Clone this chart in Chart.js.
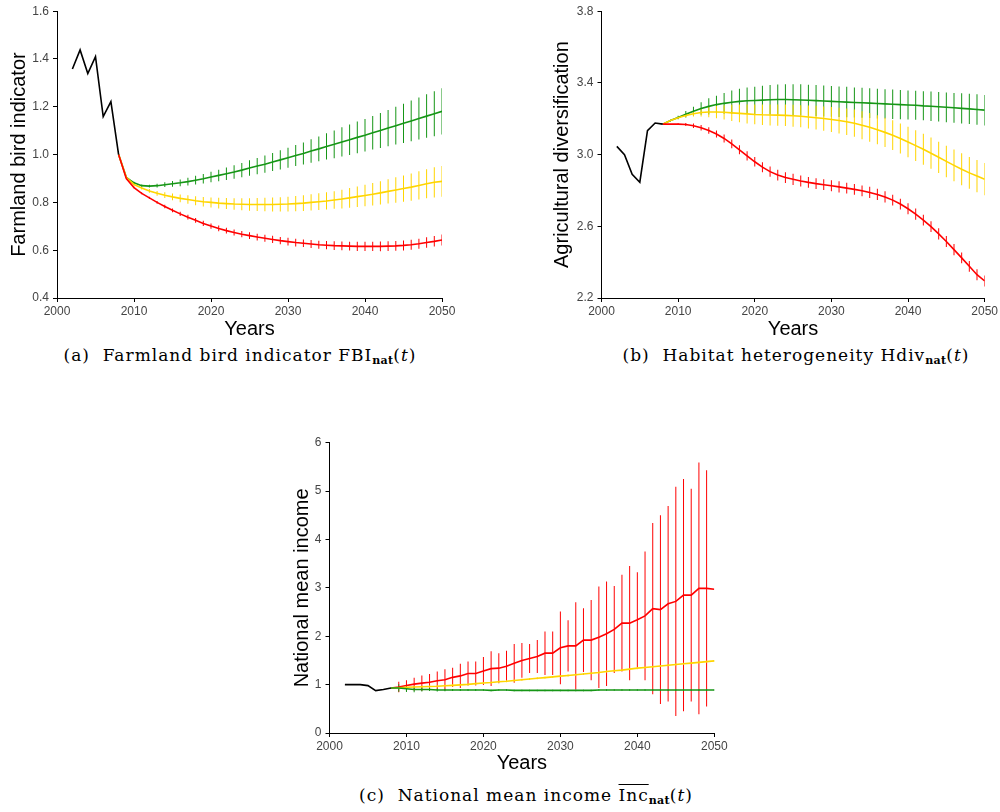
<!DOCTYPE html>
<html lang="en">
<head>
<meta charset="UTF-8">
<title>Scenario indicators</title>
<script src="https://cdn.jsdelivr.net/npm/chart.js"></script>
<style>
  body { margin: 0; background: #fff; }
  #page { position: relative; width: 1000px; height: 812px; overflow: hidden; background: #fff; }
  canvas { position: absolute; }
  .caption {
    position: absolute; text-align: center; white-space: nowrap; color: #000;
    font-family: "DejaVu Serif", "Liberation Serif", serif; font-size: 17px; letter-spacing: 1px;
  }
  .caption sub { font-size: 11px; font-weight: bold; vertical-align: -3px; letter-spacing: 0.3px; }
  .caption .ov { text-decoration: overline; }
</style>
</head>
<body>
<div id="page">
  <canvas id="chartA" width="460" height="345" style="left:0px; top:0px;"></canvas>
  <canvas id="chartB" width="460" height="345" style="left:540px; top:0px;"></canvas>
  <canvas id="chartC" width="450" height="349" style="left:280px; top:430px;"></canvas>
  <div class="caption" style="left:40px; width:400px; top:345px;">(a)&nbsp; Farmland bird indicator FBI<sub>nat</sub>(<i>t</i>)</div>
  <div class="caption" style="left:596px; width:400px; top:345px;">(b)&nbsp; Habitat heterogeneity Hdiv<sub>nat</sub>(<i>t</i>)</div>
  <div class="caption" style="left:326px; width:400px; top:785px;">(c)&nbsp; National mean income <span class="ov">Inc</span><sub>nat</sub>(<i>t</i>)</div>
</div>

<script>
// years
const histYears = [2002, 2003, 2004, 2005, 2006, 2007, 2008];
const projYears = [
  2008, 2009, 2010, 2011, 2012, 2013, 2014, 2015, 2016, 2017,
  2018, 2019, 2020, 2021, 2022, 2023, 2024, 2025, 2026, 2027,
  2028, 2029, 2030, 2031, 2032, 2033, 2034, 2035, 2036, 2037,
  2038, 2039, 2040, 2041, 2042, 2043, 2044, 2045, 2046, 2047,
  2048, 2049, 2050
];

// (a) farmland bird indicator
const fbiHist = [1.358, 1.438, 1.339, 1.410, 1.159, 1.222, 1.000];
const fbiGreen = [
  1.000, 0.905, 0.882, 0.870, 0.868, 0.870, 0.874, 0.878, 0.882, 0.887,
  0.893, 0.899, 0.906, 0.913, 0.920, 0.927, 0.935, 0.944, 0.952, 0.960,
  0.969, 0.978, 0.987, 0.996, 1.005, 1.015, 1.024, 1.034, 1.043, 1.053,
  1.062, 1.072, 1.081, 1.091, 1.101, 1.111, 1.121, 1.131, 1.141, 1.151,
  1.161, 1.171, 1.181
];
const fbiGreenErr = [
  0, 0, 0.004, 0.005, 0.006, 0.008, 0.010, 0.012, 0.014, 0.016,
  0.018, 0.020, 0.022, 0.024, 0.026, 0.028, 0.030, 0.032, 0.034, 0.036,
  0.038, 0.040, 0.042, 0.044, 0.046, 0.049, 0.052, 0.055, 0.058, 0.061,
  0.064, 0.066, 0.068, 0.070, 0.073, 0.076, 0.079, 0.082, 0.085, 0.088,
  0.091, 0.094, 0.097
];
const fbiYellow = [
  1.000, 0.905, 0.875, 0.860, 0.848, 0.838, 0.830, 0.823, 0.817, 0.812,
  0.807, 0.803, 0.800, 0.797, 0.795, 0.793, 0.792, 0.791, 0.791, 0.791,
  0.791, 0.792, 0.793, 0.795, 0.797, 0.800, 0.803, 0.806, 0.810, 0.814,
  0.819, 0.824, 0.829, 0.834, 0.840, 0.846, 0.852, 0.858, 0.864, 0.871,
  0.878, 0.884, 0.888
];
const fbiYellowErr = [
  0, 0, 0.004, 0.006, 0.008, 0.010, 0.012, 0.014, 0.016, 0.018,
  0.019, 0.020, 0.021, 0.022, 0.023, 0.024, 0.025, 0.026, 0.027, 0.028,
  0.029, 0.030, 0.031, 0.032, 0.033, 0.034, 0.035, 0.036, 0.037, 0.039,
  0.041, 0.043, 0.045, 0.047, 0.049, 0.051, 0.053, 0.055, 0.057, 0.059,
  0.061, 0.063, 0.064
];
const fbiRed = [
  1.000, 0.900, 0.862, 0.838, 0.819, 0.800, 0.783, 0.767, 0.752, 0.738,
  0.725, 0.712, 0.701, 0.691, 0.682, 0.674, 0.667, 0.661, 0.655, 0.650,
  0.645, 0.640, 0.636, 0.632, 0.629, 0.626, 0.623, 0.621, 0.619, 0.618,
  0.617, 0.616, 0.616, 0.616, 0.616, 0.617, 0.618, 0.620, 0.623, 0.627,
  0.632, 0.637, 0.643
];
const fbiRedErr = [
  0, 0, 0.003, 0.004, 0.005, 0.006, 0.007, 0.008, 0.009, 0.010,
  0.010, 0.011, 0.011, 0.012, 0.012, 0.013, 0.013, 0.014, 0.014, 0.015,
  0.015, 0.015, 0.016, 0.016, 0.016, 0.017, 0.017, 0.017, 0.018, 0.018,
  0.018, 0.019, 0.019, 0.019, 0.020, 0.020, 0.020, 0.021, 0.021, 0.021,
  0.022, 0.022, 0.023
];

// (b) habitat heterogeneity
const hdivHist = [3.046, 3.000, 2.890, 2.846, 3.134, 3.176, 3.170];
const hdivGreen = [
  3.170, 3.190, 3.207, 3.225, 3.242, 3.257, 3.269, 3.279, 3.286, 3.292,
  3.297, 3.300, 3.302, 3.304, 3.306, 3.307, 3.307, 3.306, 3.305, 3.303,
  3.301, 3.299, 3.297, 3.295, 3.293, 3.291, 3.289, 3.287, 3.285, 3.283,
  3.281, 3.279, 3.277, 3.275, 3.272, 3.270, 3.267, 3.264, 3.261, 3.258,
  3.255, 3.252, 3.248
];
const hdivGreenErr = [
  0, 0.005, 0.010, 0.018, 0.025, 0.035, 0.045, 0.050, 0.058, 0.065,
  0.070, 0.074, 0.077, 0.080, 0.082, 0.084, 0.085, 0.086, 0.087, 0.087,
  0.087, 0.086, 0.086, 0.085, 0.085, 0.084, 0.084, 0.083, 0.083, 0.082,
  0.082, 0.082, 0.081, 0.081, 0.081, 0.082, 0.082, 0.083, 0.083, 0.084,
  0.084, 0.085, 0.085
];
const hdivYellow = [
  3.170, 3.190, 3.205, 3.218, 3.228, 3.235, 3.238, 3.238, 3.236, 3.233,
  3.230, 3.227, 3.224, 3.222, 3.221, 3.220, 3.219, 3.217, 3.214, 3.210,
  3.206, 3.201, 3.196, 3.190, 3.183, 3.175, 3.164, 3.152, 3.139, 3.124,
  3.108, 3.090, 3.070, 3.050, 3.030, 3.008, 2.985, 2.962, 2.940, 2.918,
  2.898, 2.880, 2.863
];
const hdivYellowErr = [
  0, 0.003, 0.005, 0.010, 0.015, 0.022, 0.030, 0.035, 0.040, 0.045,
  0.050, 0.053, 0.055, 0.057, 0.058, 0.059, 0.060, 0.061, 0.062, 0.064,
  0.066, 0.068, 0.070, 0.072, 0.074, 0.076, 0.078, 0.080, 0.081, 0.082,
  0.083, 0.084, 0.085, 0.086, 0.086, 0.087, 0.087, 0.088, 0.088, 0.089,
  0.089, 0.090, 0.090
];
const hdivRed = [
  3.170, 3.170, 3.170, 3.168, 3.161, 3.150, 3.135, 3.115, 3.090, 3.060,
  3.027, 2.993, 2.960, 2.930, 2.905, 2.886, 2.872, 2.862, 2.853, 2.845,
  2.838, 2.832, 2.826, 2.820, 2.813, 2.806, 2.798, 2.789, 2.778, 2.764,
  2.746, 2.724, 2.698, 2.668, 2.635, 2.598, 2.558, 2.515, 2.470, 2.424,
  2.377, 2.330, 2.295
];
const hdivRedErr = [
  0, 0, 0.005, 0.008, 0.012, 0.015, 0.018, 0.020, 0.022, 0.024,
  0.025, 0.026, 0.027, 0.028, 0.029, 0.030, 0.030, 0.031, 0.031, 0.030,
  0.030, 0.030, 0.031, 0.031, 0.030, 0.030, 0.030, 0.031, 0.031, 0.031,
  0.030, 0.030, 0.031, 0.031, 0.030, 0.030, 0.031, 0.031, 0.031, 0.030,
  0.030, 0.031, 0.031
];

// (c) national mean income
const incHist = [1.00, 1.00, 1.00, 0.98, 0.875, 0.90, 0.93];
const incRed = [
  0.93, 0.95, 0.98, 1.01, 1.03, 1.05, 1.08, 1.10, 1.15, 1.18,
  1.23, 1.23, 1.28, 1.33, 1.34, 1.38, 1.44, 1.50, 1.54, 1.58,
  1.65, 1.65, 1.76, 1.80, 1.80, 1.92, 1.92, 1.98, 2.05, 2.14,
  2.27, 2.27, 2.34, 2.42, 2.57, 2.55, 2.67, 2.72, 2.85, 2.85,
  2.99, 2.99, 2.97
];
const incRedErr = [
  0, 0.11, 0.11, 0.13, 0.16, 0.17, 0.19, 0.22, 0.20, 0.25,
  0.25, 0.25, 0.29, 0.36, 0.31, 0.32, 0.40, 0.36, 0.30, 0.34,
  0.45, 0.45, 0.75, 0.53, 0.90, 0.66, 0.83, 1.05, 1.08, 0.90,
  1.00, 1.18, 0.98, 1.33, 1.77, 1.95, 2.02, 2.37, 2.40, 2.20,
  2.60, 2.44, 0
];
const incYellow = [
  0.93, 0.935, 0.945, 0.95, 0.955, 0.96, 0.965, 0.975, 0.985, 0.995,
  1.005, 1.02, 1.035, 1.045, 1.06, 1.07, 1.085, 1.10, 1.115, 1.13,
  1.145, 1.16, 1.175, 1.19, 1.205, 1.22, 1.235, 1.25, 1.27, 1.285,
  1.30, 1.32, 1.34, 1.355, 1.37, 1.385, 1.40, 1.415, 1.43, 1.445,
  1.46, 1.475, 1.49
];
const incYellowErr = [
  0, 0.02, 0.02, 0.02, 0.02, 0.02, 0.02, 0.02, 0.02, 0.02,
  0.02, 0.02, 0.02, 0.02, 0.02, 0.02, 0.02, 0.02, 0.02, 0.02,
  0.02, 0.02, 0.02, 0.02, 0.02, 0.02, 0.02, 0.02, 0.02, 0.02,
  0.02, 0.02, 0.02, 0.02, 0.02, 0.02, 0.02, 0.02, 0.02, 0.02,
  0.02, 0.02, 0.02
];
const incGreen = [
  0.93, 0.93, 0.915, 0.90, 0.90, 0.90, 0.89, 0.89, 0.89, 0.89,
  0.89, 0.89, 0.89, 0.88, 0.89, 0.89, 0.88, 0.88, 0.88, 0.88,
  0.88, 0.88, 0.88, 0.88, 0.88, 0.88, 0.88, 0.89, 0.89, 0.89,
  0.89, 0.89, 0.89, 0.89, 0.89, 0.89, 0.89, 0.89, 0.89, 0.89,
  0.89, 0.89, 0.89
];
const incGreenErr = [
  0, 0.08, 0.07, 0.06, 0.04, 0.03, 0.03, 0.025, 0.02, 0.02,
  0.02, 0.02, 0.015, 0.015, 0.015, 0.015, 0.015, 0.015, 0.015, 0.015,
  0.015, 0.015, 0.015, 0.015, 0.015, 0.015, 0.015, 0.015, 0.015, 0.015,
  0.015, 0.015, 0.015, 0.015, 0.015, 0.015, 0.015, 0.015, 0.015, 0.015,
  0.015, 0.015, 0.015
];

const GREEN = '#169616';
const YELLOW = '#ffd500';
const RED = '#ff0000';
const SANS = '"Liberation Sans", Arial, sans-serif';

function lineSet(xs, ys, color) {
  return {
    type: 'line',
    data: xs.map((x, i) => ({ x: x, y: ys[i] })),
    borderColor: color,
    borderWidth: 1.6,
    pointRadius: 0,
    tension: 0,
    fill: false,
    order: 1
  };
}

// error bars drawn as thin floating bars
function errSet(xs, ys, errs, color) {
  const pts = [];
  xs.forEach((x, i) => {
    if (errs[i] > 0) pts.push({ x: x, y: [ys[i] - errs[i], ys[i] + errs[i]] });
  });
  return {
    type: 'bar',
    data: pts,
    backgroundColor: color,
    barThickness: 1,
    inflateAmount: 0,
    grouped: false,
    order: 2
  };
}

function makeChart(id, datasets, ax) {
  return new Chart(document.getElementById(id), {
    type: 'line',
    data: { datasets: datasets },
    options: {
      responsive: false,
      animation: false,
      layout: { padding: ax.pad },
      plugins: { legend: { display: false }, tooltip: { enabled: false } },
      scales: {
        x: {
          type: 'linear', min: 2000, max: 2050, offset: false,
          ticks: { stepSize: 10, color: '#444', padding: 2, maxRotation: 0,
                   font: { family: SANS, size: 12 }, callback: v => String(v) },
          grid: { display: true, drawOnChartArea: false, drawTicks: true, tickLength: 4, color: '#000', offset: false },
          border: { display: true, color: '#000', width: 1 },
          title: { display: true, text: 'Years', color: '#000', font: { family: SANS, size: 20 }, padding: { top: 0, bottom: 4 } },
          afterFit: s => { s.height = ax.xHeight; }
        },
        y: {
          min: ax.yMin, max: ax.yMax,
          ticks: { stepSize: ax.yStep, color: '#444', padding: 4,
                   font: { family: SANS, size: 12 }, callback: v => v.toFixed(ax.digits) },
          grid: { display: true, drawOnChartArea: false, drawTicks: true, tickLength: 4, color: '#000' },
          border: { display: true, color: '#000', width: 1 },
          title: { display: true, text: ax.yTitle, color: '#000', font: { family: SANS, size: 20 }, padding: { top: 4, bottom: 0 } },
          afterFit: s => { s.width = ax.yWidth; }
        }
      }
    }
  });
}

makeChart('chartA', [
  lineSet(histYears, fbiHist, '#000'),
  lineSet(projYears, fbiRed, RED),
  lineSet(projYears, fbiYellow, YELLOW),
  lineSet(projYears, fbiGreen, GREEN),
  errSet(projYears, fbiRed, fbiRedErr, RED),
  errSet(projYears, fbiYellow, fbiYellowErr, YELLOW),
  errSet(projYears, fbiGreen, fbiGreenErr, GREEN)
], { yMin: 0.4, yMax: 1.6, yStep: 0.2, digits: 1, yTitle: 'Farmland bird indicator',
     pad: { left: 3, top: 7, right: 18, bottom: 0 }, yWidth: 54, xHeight: 47 });

makeChart('chartB', [
  lineSet(histYears, hdivHist, '#000'),
  lineSet(projYears, hdivRed, RED),
  lineSet(projYears, hdivYellow, YELLOW),
  lineSet(projYears, hdivGreen, GREEN),
  errSet(projYears, hdivRed, hdivRedErr, RED),
  errSet(projYears, hdivYellow, hdivYellowErr, YELLOW),
  errSet(projYears, hdivGreen, hdivGreenErr, GREEN)
], { yMin: 2.2, yMax: 3.8, yStep: 0.4, digits: 1, yTitle: 'Agricultural diversification',
     pad: { left: 6.5, top: 7, right: 13, bottom: 0 }, yWidth: 55, xHeight: 47 });

makeChart('chartC', [
  lineSet(histYears, incHist, '#000'),
  lineSet(projYears, incGreen, GREEN),
  lineSet(projYears, incYellow, YELLOW),
  lineSet(projYears, incRed, RED),
  errSet(projYears, incGreen, incGreenErr, GREEN),
  errSet(projYears, incYellow, incYellowErr, YELLOW),
  errSet(projYears, incRed, incRedErr, RED)
], { yMin: 0, yMax: 6, yStep: 1, digits: 0, yTitle: 'National mean income',
     pad: { left: 6.5, top: 12.7, right: 15.7, bottom: 0 }, yWidth: 43, xHeight: 46 });
</script>
</body>
</html>
